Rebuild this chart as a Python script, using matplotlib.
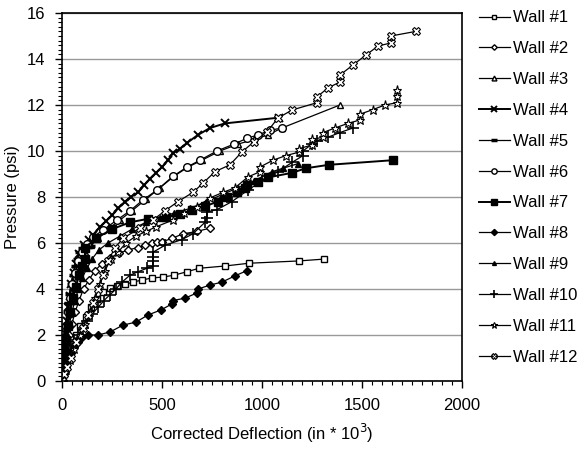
import matplotlib.pyplot as plt
from matplotlib.ticker import MultipleLocator

plt.rcParams["font.family"] = ["Liberation Sans", "DejaVu Sans"]

# Pressure vs corrected deflection for the twelve wall tests
x1 = [0, 10, 22, 36, 52, 70, 92, 118, 145, 175, 205, 240, 275, 315, 355, 400, 450, 505, 560, 625, 685, 815, 935, 1185, 1310]
y1 = [0, 0.4, 0.8, 1.2, 1.6, 2.0, 2.4, 2.8, 3.2, 3.55, 3.85, 4.05, 4.15, 4.2, 4.3, 4.39, 4.48, 4.52, 4.6, 4.75, 4.9, 5.0, 5.12, 5.22, 5.3]

x2 = [0, 6, 14, 24, 36, 50, 66, 85, 108, 135, 165, 200, 240, 285, 330, 380, 415, 450, 475, 500, 550, 605, 675, 740]
y2 = [0, 0.5, 1.0, 1.5, 2.0, 2.5, 3.0, 3.5, 4.0, 4.4, 4.8, 5.1, 5.35, 5.55, 5.7, 5.8, 5.9, 6.0, 6.05, 6.05, 6.2, 6.4, 6.5, 6.65]

x3 = [0, 5, 11, 18, 26, 36, 48, 62, 78, 96, 118, 145, 180, 230, 290, 350, 420, 490, 560, 630, 700, 790, 880, 960, 1030, 1100, 1390]
y3 = [0, 0.5, 1.1, 1.7, 2.3, 2.9, 3.5, 4.1, 4.6, 5.1, 5.5, 5.9, 6.2, 6.6, 7.0, 7.4, 7.9, 8.4, 8.9, 9.3, 9.6, 10.0, 10.3, 10.5, 10.7, 11.0, 12.0]

x4 = [0, 3, 7, 12, 17, 23, 30, 38, 47, 58, 70, 85, 110, 135, 155, 190, 220, 250, 280, 315, 345, 380, 410, 440, 470, 500, 530, 555, 590, 625, 680, 740, 815, 1085]
y4 = [0, 0.5, 1.0, 1.6, 2.1, 2.6, 3.2, 3.7, 4.2, 4.7, 5.1, 5.5, 5.9, 6.15, 6.35, 6.7, 6.95, 7.2, 7.5, 7.8, 8.0, 8.2, 8.5, 8.8, 9.05, 9.3, 9.6, 9.9, 10.1, 10.35, 10.7, 11.0, 11.2, 11.45]

x5 = [0, 3, 6, 10, 14, 19, 24, 30, 37, 45, 54, 64, 75, 87, 100, 115, 130, 145]
y5 = [0, 0.5, 1.0, 1.5, 2.0, 2.5, 3.0, 3.4, 3.8, 4.2, 4.6, 5.0, 5.3, 5.6, 5.8, 5.8, 5.82, 5.85]

x6 = [0, 4, 9, 15, 22, 30, 40, 52, 66, 82, 100, 125, 155, 205, 275, 340, 405, 475, 555, 625, 690, 775, 860, 925, 980, 1040, 1100]
y6 = [0, 0.6, 1.2, 1.8, 2.4, 3.0, 3.6, 4.2, 4.7, 5.2, 5.6, 5.95, 6.26, 6.56, 7.0, 7.4, 7.87, 8.3, 8.9, 9.3, 9.6, 10.0, 10.3, 10.55, 10.7, 10.9, 11.0]

x7 = [0, 6, 13, 21, 30, 41, 54, 69, 86, 100, 115, 115, 170, 250, 340, 430, 520, 590, 650, 715, 780, 825, 875, 915, 925, 980, 1030, 1150, 1220, 1335, 1655]
y7 = [0, 0.6, 1.2, 1.8, 2.4, 3.0, 3.6, 4.1, 4.6, 5.0, 5.3, 5.8, 6.2, 6.6, 6.9, 7.05, 7.15, 7.25, 7.45, 7.6, 7.8, 8.0, 8.2, 8.4, 8.5, 8.65, 8.85, 9.05, 9.25, 9.4, 9.6]

x8 = [0, 8, 18, 30, 45, 62, 80, 100, 130, 180, 240, 305, 370, 430, 495, 550, 555, 615, 675, 680, 740, 800, 865, 925]
y8 = [0, 0.3, 0.6, 0.9, 1.2, 1.5, 1.7, 1.9, 2.0, 2.0, 2.13, 2.43, 2.56, 2.87, 3.09, 3.35, 3.5, 3.6, 3.83, 4.0, 4.17, 4.3, 4.57, 4.8]

x9 = [0, 5, 11, 18, 27, 38, 50, 65, 82, 102, 125, 150, 185, 230, 290, 350, 420, 490, 560, 640, 720, 800, 880, 960, 1050, 1105, 1180]
y9 = [0, 0.5, 1.0, 1.5, 2.0, 2.5, 3.0, 3.5, 4.0, 4.5, 4.9, 5.3, 5.7, 6.0, 6.3, 6.6, 6.9, 7.1, 7.3, 7.5, 7.8, 8.1, 8.4, 8.7, 9.1, 9.25, 9.45]

x10 = [0, 8, 18, 30, 45, 62, 82, 105, 125, 150, 180, 210, 240, 270, 300, 340, 380, 425, 455, 455, 455, 455, 515, 600, 655, 715, 725, 725, 775, 850, 930, 1000, 1080, 1150, 1205, 1205, 1250, 1275, 1330, 1390, 1455]
y10 = [0, 0.4, 0.8, 1.2, 1.5, 1.8, 2.0, 2.3, 2.6, 2.9, 3.2, 3.5, 3.75, 4.0, 4.3, 4.6, 4.75, 4.9, 5.0, 5.2, 5.4, 5.6, 5.9, 6.15, 6.4, 6.9, 7.1, 7.35, 7.45, 7.8, 8.3, 8.7, 9.1, 9.5, 9.8, 10.0, 10.3, 10.45, 10.6, 10.8, 11.0]

x11 = [0, 20, 40, 60, 90, 115, 140, 165, 190, 215, 245, 280, 320, 370, 420, 470, 555, 610, 675, 740, 805, 865, 930, 990, 990, 1055, 1120, 1185, 1185, 1250, 1250, 1305, 1305, 1365, 1430, 1490, 1490, 1555, 1615, 1675, 1675, 1675]
y11 = [0, 0.5, 0.9, 1.4, 2.0, 2.5, 3.0, 3.6, 4.2, 4.8, 5.3, 5.6, 6.0, 6.3, 6.5, 6.7, 7.0, 7.3, 7.57, 7.96, 8.2, 8.4, 8.87, 9.1, 9.3, 9.6, 9.8, 9.95, 10.1, 10.26, 10.5, 10.6, 10.8, 11.0, 11.2, 11.35, 11.6, 11.8, 12.0, 12.1, 12.4, 12.65]

x12 = [0, 10, 25, 45, 70, 105, 130, 155, 180, 205, 230, 265, 305, 390, 455, 515, 580, 655, 705, 765, 840, 900, 960, 1025, 1080, 1150, 1275, 1275, 1330, 1390, 1390, 1455, 1520, 1580, 1645, 1645, 1770]
y12 = [0, 0.3, 0.6, 1.0, 1.7, 2.3, 2.87, 3.4, 4.0, 4.6, 5.2, 5.8, 6.2, 6.65, 7.0, 7.4, 7.8, 8.2, 8.6, 9.1, 9.4, 9.96, 10.4, 10.83, 11.43, 11.78, 12.1, 12.35, 12.74, 13.0, 13.3, 13.74, 14.17, 14.56, 14.7, 15.0, 15.2]

series = [
    (x1, y1, dict(marker="s", ms=5, mfc="white", lw=0.9)),
    (x2, y2, dict(marker="D", ms=4, mfc="white", lw=0.9)),
    (x3, y3, dict(marker="^", ms=5, mfc="white", lw=0.9)),
    (x4, y4, dict(marker="x", ms=6, mew=1.4, lw=1.4)),
    (x5, y5, dict(marker="_", ms=6, mew=2.5, lw=0.9)),
    (x6, y6, dict(marker="o", ms=5.5, mfc="white", lw=0.9)),
    (x7, y7, dict(marker="s", ms=6, mfc="black", lw=1.4)),
    (x8, y8, dict(marker="D", ms=4.5, mfc="black", lw=0.9)),
    (x9, y9, dict(marker="^", ms=4, mfc="black", lw=0.9)),
    (x10, y10, dict(marker="+", ms=8, mew=1.2, lw=0.9)),
    (x11, y11, dict(marker="*", ms=6.5, mfc="white", mew=0.8, lw=0.9)),
    (x12, y12, dict(marker="X", ms=5.5, mfc="white", mew=0.8, lw=0.9)),
]

fig = plt.figure(figsize=(5.83, 4.51), dpi=100)
ax = fig.add_axes([0.1063, 0.1552, 0.686, 0.816])

for i, (xs, ys, style) in enumerate(series):
    ax.plot(xs, ys, color="black", mec="black", label=f"Wall #{i + 1}", **style)

ax.set_xlim(0, 2000)
ax.set_ylim(0, 16)
ax.xaxis.set_major_locator(MultipleLocator(500))
ax.xaxis.set_minor_locator(MultipleLocator(50))
ax.yaxis.set_major_locator(MultipleLocator(2))
ax.yaxis.set_minor_locator(MultipleLocator(0.2))
ax.grid(axis="y", which="major", color="#999999", lw=1)
ax.set_axisbelow(True)
ax.tick_params(which="major", length=5, width=1, labelsize=12, pad=7)
ax.tick_params(which="minor", length=3, width=0.8)
for sp in ax.spines.values():
    sp.set_linewidth(1.2)

ax.set_xlabel("Corrected Deflection (in * 10$^3$)", fontsize=12, labelpad=7)
ax.set_ylabel("Pressure (psi)", fontsize=12, labelpad=5)

ax.legend(loc="upper left", bbox_to_anchor=(1.025, 1.025), frameon=False,
          fontsize=12, handlelength=1.9, handletextpad=0.15, labelspacing=0.95,
          borderaxespad=0, markerscale=0.7)

fig.savefig("out.png", dpi=100)
